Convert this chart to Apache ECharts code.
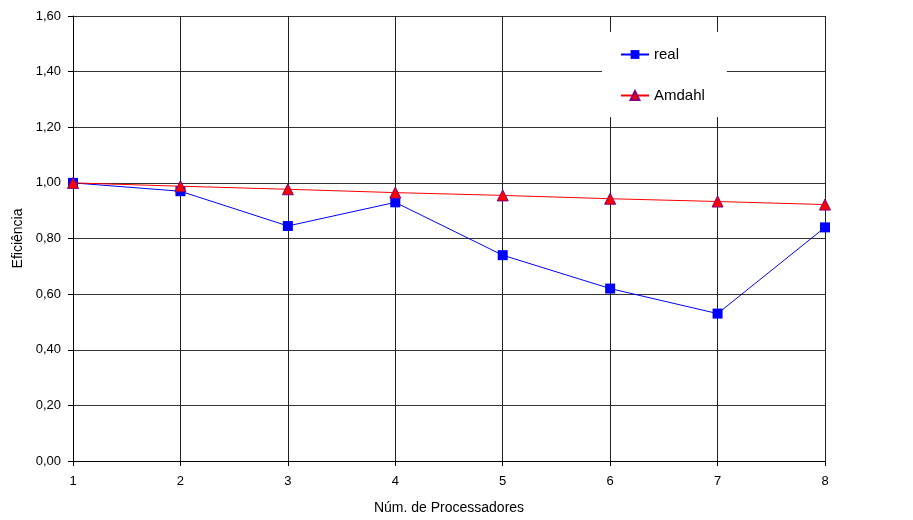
<!DOCTYPE html>
<html>
<head>
<meta charset="utf-8">
<script src="https://cdn.jsdelivr.net/npm/echarts@6/dist/echarts.min.js"></script>
<style>html,body{margin:0;padding:0;background:#fff}#main{width:913px;height:520px}</style>
</head>
<body>
<div id="main"></div>
<script>
var procs = [1, 2, 3, 4, 5, 6, 7, 8];
var real = [1.00, 0.97, 0.845, 0.93, 0.74, 0.62, 0.53, 0.84];
var amdahl = [1.00, 0.988, 0.977, 0.965, 0.955, 0.943, 0.933, 0.922];

function pairs(ys) {
    return procs.map(function (x, i) { return [x, ys[i]]; });
}

var chart = echarts.init(document.getElementById('main'), null, {renderer: 'canvas'});
var font = 'Liberation Sans, Arial, sans-serif';
var option = {
    animation: false,
    textStyle: {fontFamily: font},
    grid: {left: 73, right: 88, top: 16, bottom: 59, outerBoundsMode: 'none', containLabel: false},
    xAxis: {
        type: 'value',
        min: 1, max: 8, interval: 1,
        name: 'Núm. de Processadores',
        nameLocation: 'middle',
        nameGap: 40,
        nameTextStyle: {color: '#000', fontSize: 14, fontFamily: font},
        axisLine: {show: true, lineStyle: {color: '#000', width: 1}},
        axisTick: {show: true, length: 5, lineStyle: {color: '#000'}},
        axisLabel: {color: '#000', fontSize: 13, margin: 14, fontFamily: font},
        splitLine: {show: true, lineStyle: {color: '#222', width: 1}}
    },
    yAxis: {
        type: 'value',
        min: 0, max: 1.6, interval: 0.2,
        name: 'Eficiência',
        nameLocation: 'middle',
        nameGap: 48,
        nameRotate: 90,
        nameTextStyle: {color: '#000', fontSize: 14, fontFamily: font},
        axisLine: {show: true, lineStyle: {color: '#000', width: 1}},
        axisTick: {show: true, length: 5, lineStyle: {color: '#000'}},
        axisLabel: {
            color: '#000', fontSize: 13, margin: 12, fontFamily: font,
            formatter: function (v) { return v.toFixed(2).replace('.', ','); }
        },
        splitLine: {show: true, lineStyle: {color: '#333', width: 1}}
    },
    legend: {
        orient: 'vertical',
        left: 602, top: 32,
        padding: [15, 22, 14, 18],
        itemGap: 26,
        itemWidth: 28, itemHeight: 11,
        backgroundColor: '#fff',
        textStyle: {color: '#000', fontSize: 15, fontFamily: font},
        data: ['real', 'Amdahl']
    },
    series: [
        {
            name: 'real',
            type: 'line',
            data: pairs(real),
            symbol: 'rect',
            symbolSize: 10,
            lineStyle: {color: '#0000ff', width: 1},
            itemStyle: {color: '#0000ff'},
            z: 3
        },
        {
            name: 'Amdahl',
            type: 'line',
            data: pairs(amdahl),
            symbol: 'triangle',
            symbolSize: 11,
            lineStyle: {color: '#ff0000', width: 1},
            itemStyle: {color: '#ff0000', borderColor: '#800080', borderWidth: 1},
            z: 4
        }
    ]
};
chart.setOption(option);
</script>
</body>
</html>
